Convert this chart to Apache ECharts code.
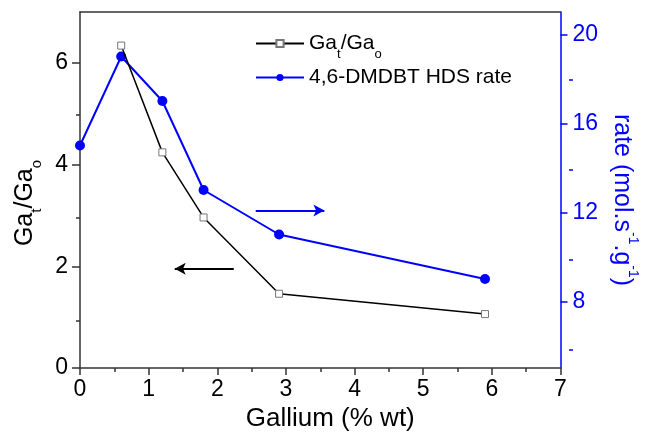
<!DOCTYPE html>
<html>
<head>
<meta charset="utf-8">
<script src="https://cdn.jsdelivr.net/npm/echarts@6/dist/echarts.min.js"></script>
<style>
  html, body { margin: 0; padding: 0; background: #fff; }
  #chart { width: 648px; height: 437px; }
</style>
</head>
<body>
<div id="chart"></div>
<script>
// data
const gaX = [0.6, 1.2, 1.8, 2.9, 5.9]
const gaRatio = [6.34, 4.24, 2.96, 1.46, 1.06]
const rateX = [0, 0.6, 1.2, 1.8, 2.9, 5.9]
const rate = [15, 19, 17, 13, 11, 9]
const leftTicks = [0, 2, 4, 6]
const leftMinor = [1, 3, 5]
const rightTicks = [8, 12, 16, 20]
const rightMinor = [6, 10, 14, 18]
// arrows: [x0, x1, y]
const leftArrow = [2.24, 1.38, 1.95]
const rightArrow = [2.56, 3.56, 12.08]

const blue = '#0000ff'
const axisColor = '#333'
const font = 'Liberation Sans, Arial, sans-serif'

const chart = echarts.init(document.getElementById('chart'))

const subRich = {
  m: { fontSize: 21, fontFamily: font, color: '#000', verticalAlign: 'top', lineHeight: 21 },
  s: { fontSize: 13, fontFamily: font, color: '#000', verticalAlign: 'top', lineHeight: 13, padding: [15, 0, 0, 0] }
}

const gridPos = { left: 80, right: 79, top: 12, bottom: 65 }

const opt = {
  backgroundColor: '#fff',
  animation: false,
  grid: [gridPos, gridPos],
  legend: {
    orient: 'vertical',
    left: 255,
    top: 33,
    padding: 0,
    itemWidth: 48,
    itemHeight: 9,
    itemGap: 6,
    textStyle: { fontSize: 21, fontFamily: font, color: '#000', rich: subRich },
    formatter(name) {
      if (name === 'ga') return '{m|Ga}{s|t}{m|/Ga}{s|o}'
      return '{m|' + name + '}'
    },
    data: ['ga', '4,6-DMDBT HDS rate']
  },
  xAxis: [{
    type: 'value',
    gridIndex: 0,
    min: 0,
    max: 7,
    interval: 1,
    name: 'Gallium (% wt)',
    nameLocation: 'middle',
    nameGap: 38,
    nameTextStyle: { fontSize: 26, fontFamily: font, color: '#000', padding: [0, 0, 0, 20] },
    axisLine: { show: true, lineStyle: { color: axisColor, width: 1.5 } },
    axisTick: { show: true, inside: false, length: 7, lineStyle: { color: axisColor, width: 1.5 } },
    minorTick: { show: true, splitNumber: 2, length: 4, lineStyle: { color: axisColor, width: 1.5 } },
    axisLabel: { fontSize: 23, fontFamily: font, color: '#000', margin: 10 },
    splitLine: { show: false }
  }, {
    // top frame
    type: 'value',
    gridIndex: 0,
    position: 'top',
    min: 0,
    max: 7,
    axisLine: { show: true, onZero: false, lineStyle: { color: axisColor, width: 1.5 } },
    axisTick: { show: false },
    axisLabel: { show: false },
    splitLine: { show: false }
  }, {
    type: 'value',
    gridIndex: 1,
    min: 0,
    max: 7,
    show: false
  }],
  yAxis: [{
    type: 'value',
    gridIndex: 0,
    position: 'left',
    min: 0,
    max: 7,
    name: '{m|Ga}{s|t}{m|/Ga}{s|o}',
    nameLocation: 'middle',
    nameGap: 22,
    nameTextStyle: {
      padding: [0, 26, 0, 0],
      rich: {
        m: { fontSize: 25, fontFamily: font, color: '#000', verticalAlign: 'top', lineHeight: 25 },
        s: { fontSize: 15, fontFamily: font, color: '#000', verticalAlign: 'top', lineHeight: 15, padding: [17, 0, 0, 0] }
      }
    },
    axisLine: { show: true, onZero: false, lineStyle: { color: axisColor, width: 1.5 } },
    axisTick: { show: true, length: 8, customValues: leftTicks, lineStyle: { color: axisColor, width: 1.5 } },
    axisLabel: { fontSize: 23, fontFamily: font, color: '#000', margin: 12, customValues: leftTicks },
    splitLine: { show: false }
  }, {
    type: 'value',
    gridIndex: 0,
    position: 'right',
    min: 5,
    max: 21,
    name: '{m|rate (mol.s}{p|-1}{m|.g}{p|-1}{m|)}',
    nameLocation: 'middle',
    nameGap: 48,
    nameRotate: -90,
    nameTextStyle: {
      padding: [0, 0, 0, 20],
      rich: {
        m: { fontSize: 25, fontFamily: font, color: blue, verticalAlign: 'top', lineHeight: 25, padding: [6, 0, 0, 0] },
        p: { fontSize: 14, fontFamily: font, color: blue, verticalAlign: 'top', lineHeight: 14 }
      }
    },
    axisLine: { show: true, onZero: false, lineStyle: { color: blue, width: 1.5 } },
    axisTick: { show: true, length: 7, customValues: rightTicks, lineStyle: { color: blue, width: 1.5 } },
    axisLabel: { fontSize: 23, fontFamily: font, color: blue, margin: 12, customValues: rightTicks },
    splitLine: { show: false }
  }, {
    // short ticks, left
    type: 'value',
    gridIndex: 1,
    position: 'left',
    min: 0,
    max: 7,
    axisLine: { show: false },
    axisTick: { show: true, length: 4, customValues: leftMinor, lineStyle: { color: axisColor, width: 1.5 } },
    axisLabel: { show: false },
    splitLine: { show: false }
  }, {
    // short ticks, right
    type: 'value',
    gridIndex: 1,
    position: 'right',
    min: 5,
    max: 21,
    axisLine: { show: false },
    axisTick: { show: true, length: 4, customValues: rightMinor, lineStyle: { color: blue, width: 1.5 } },
    axisLabel: { show: false },
    splitLine: { show: false }
  }],
  series: [{
    name: 'ga',
    type: 'line',
    xAxisIndex: 0,
    yAxisIndex: 0,
    symbol: 'rect',
    symbolSize: 7,
    showAllSymbol: true,
    lineStyle: { color: '#000', width: 1.5 },
    itemStyle: { color: '#fff', borderColor: '#777', borderWidth: 1 },
    data: gaX.map((x, i) => [x, gaRatio[i]]),
    z: 3,
    markLine: {
      silent: true,
      symbol: ['none', 'arrow'],
      symbolSize: [9, 11],
      label: { show: false },
      lineStyle: { color: '#000', width: 2, type: 'solid' },
      data: [[{ coord: [leftArrow[0], leftArrow[2]] }, { coord: [leftArrow[1], leftArrow[2]] }]]
    }
  }, {
    name: '4,6-DMDBT HDS rate',
    type: 'line',
    xAxisIndex: 0,
    yAxisIndex: 1,
    symbol: 'circle',
    symbolSize: 10,
    clip: false,
    lineStyle: { color: blue, width: 2 },
    itemStyle: { color: blue },
    data: rateX.map((x, i) => [x, rate[i]]),
    z: 2,
    markLine: {
      silent: true,
      symbol: ['none', 'arrow'],
      symbolSize: [9, 11],
      label: { show: false },
      lineStyle: { color: blue, width: 2, type: 'solid' },
      data: [[{ coord: [rightArrow[0], rightArrow[2]] }, { coord: [rightArrow[1], rightArrow[2]] }]]
    }
  }]
}

chart.setOption(opt)
</script>
</body>
</html>
